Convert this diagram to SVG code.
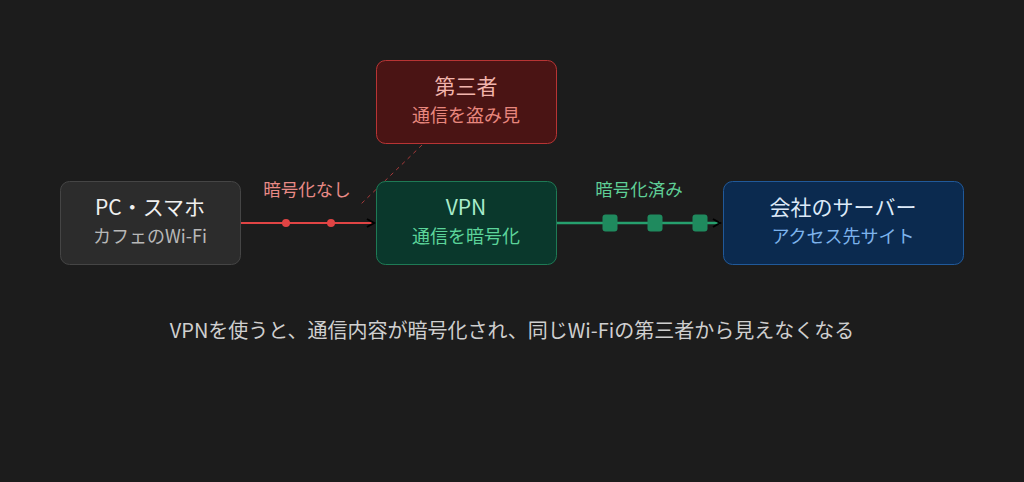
<svg xmlns="http://www.w3.org/2000/svg" width="1024" height="482" viewBox="0 0 1024 482">
<style>
.t{font-family:"Noto Sans CJK JP","Noto Sans",sans-serif;text-anchor:middle}
.h{font-size:21px;font-weight:400}
.s{font-size:18px}
.l{font-size:17.5px}
</style>
<defs>
<marker id="arr" markerWidth="10" markerHeight="10" refX="8" refY="5" orient="auto" markerUnits="userSpaceOnUse">
<path d="M1,1 L8,5 L1,9" fill="none" stroke="#000" stroke-width="2"/>
</marker>
</defs>
<rect width="1024" height="482" fill="#1c1c1c"/>
<g id="connectors">
<line x1="422" y1="145" x2="360" y2="205" stroke="#a83a3a" stroke-width="1" stroke-dasharray="4,4"/>
<line x1="241" y1="223" x2="374" y2="223" stroke="#e04444" stroke-width="2" marker-end="url(#arr)"/>
<circle cx="286" cy="223" r="4" fill="#e04444"/>
<circle cx="331" cy="223" r="4" fill="#e04444"/>
<text class="t l" x="307" y="196" fill="#e88a86">暗号化なし</text>
<line x1="557" y1="223" x2="720" y2="223" stroke="#26a06e" stroke-width="2.5" marker-end="url(#arr)"/>
<rect x="602.5" y="214.5" width="15" height="17" rx="3" fill="#1f8a5e"/>
<rect x="647.5" y="214.5" width="15" height="17" rx="3" fill="#1f8a5e"/>
<rect x="692.5" y="214.5" width="15" height="17" rx="3" fill="#1f8a5e"/>
<text class="t l" x="639" y="196" fill="#5fcf96">暗号化済み</text>
</g>
<g id="pc">
<rect x="60.5" y="181.5" width="180" height="83" rx="9" fill="#2c2c2c" stroke="#454545"/>
<text class="t h" x="150" y="215" fill="#f0f0f0">PC・スマホ</text>
<text class="t s" x="150" y="243" fill="#b8b8b8">カフェのWi-Fi</text>
</g>
<g id="third">
<rect x="376.5" y="60.5" width="180" height="83" rx="9" fill="#4a1414" stroke="#b83434"/>
<text class="t h" x="466" y="94" fill="#f2b4ac">第三者</text>
<text class="t s" x="466" y="122" fill="#e8877e">通信を盗み見</text>
</g>
<g id="vpn">
<rect x="376.5" y="181.5" width="180" height="83" rx="9" fill="#0a382c" stroke="#1e7a55"/>
<text class="t h" x="466" y="215" fill="#a8ecca">VPN</text>
<text class="t s" x="466" y="243" fill="#5cd49a">通信を暗号化</text>
</g>
<g id="server">
<rect x="723.5" y="181.5" width="240" height="83" rx="9" fill="#0b2a4f" stroke="#20599a"/>
<text class="t h" x="843" y="215" fill="#dce9f8">会社のサーバー</text>
<text class="t s" x="843" y="243" fill="#7db3ec">アクセス先サイト</text>
</g>
<text class="t" x="512" y="338" font-size="20" fill="#cfcfcf">VPNを使うと、通信内容が暗号化され、同じWi-Fiの第三者から見えなくなる</text>
</svg>
